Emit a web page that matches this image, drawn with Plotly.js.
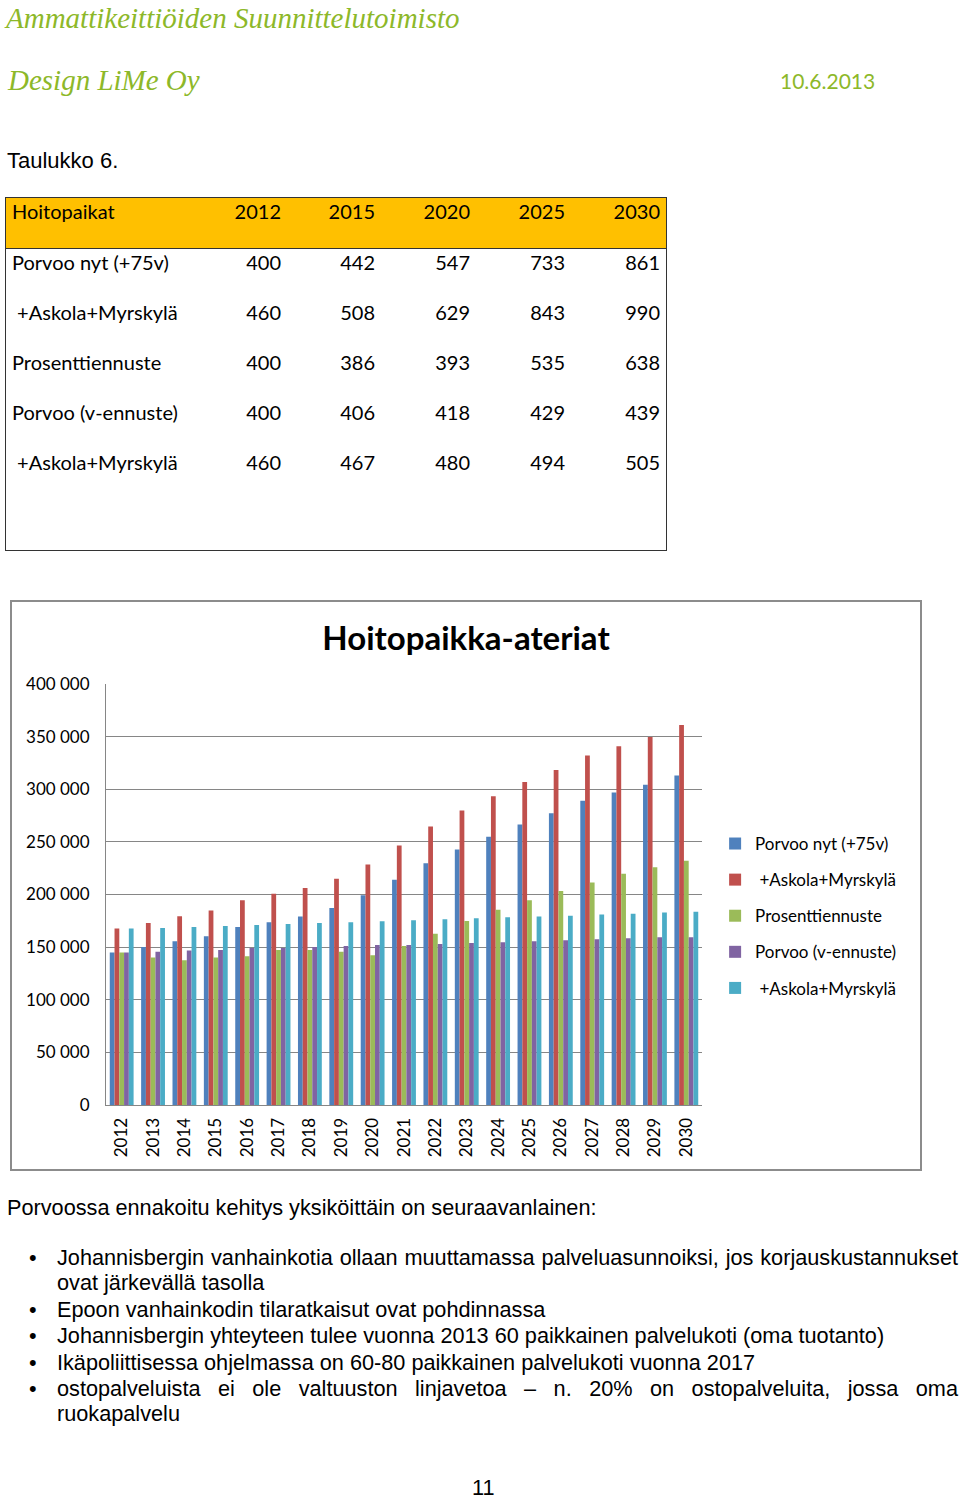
<!DOCTYPE html>
<html>
<head>
<meta charset="utf-8">
<script src="https://cdn.plot.ly/plotly-3.0.1.min.js"></script>
<style>
  html, body { margin:0; padding:0; background:#fff; }
  body { width:960px; height:1499px; position:relative; overflow:hidden; }
  .abs { position:absolute; white-space:nowrap; line-height:1; }
  .hdr { font-family:"Liberation Serif","DejaVu Serif",serif; font-style:italic; color:#8DB829; }
  .arial { font-family:"Liberation Sans", Arial, sans-serif; color:#000; }
  .lato { font-family:Lato, "Open Sans", sans-serif; color:#000; }
  .line { position:absolute; font-family:"Liberation Sans", Arial, sans-serif; font-size:21.7px; color:#000; white-space:nowrap; line-height:1; }
  .just { text-align:justify; text-align-last:justify; white-space:normal; }
  #table { position:absolute; left:5px; top:197px; width:662px; height:354px; border:1px solid #333; box-sizing:border-box; }
  #thead { position:absolute; left:0; top:0; right:0; height:50px; background:#FFC000; border-bottom:1px solid #333; }
  #chart { position:absolute; left:10px; top:600px; width:912px; height:571px; border:2px solid #8c8c8c; box-sizing:border-box; }
</style>
</head>
<body>
<div class="abs hdr" style="left:6px;top:4px;font-size:29px;">Ammattikeittiöiden Suunnittelutoimisto</div>
<div class="abs hdr" style="left:8px;top:66px;font-size:29px;">Design LiMe Oy</div>
<div class="abs lato" style="left:780px;top:70px;font-size:21px;color:#8DB829;">10.6.2013</div>

<div class="abs arial" style="left:7px;top:150px;font-size:22px;">Taulukko 6.</div>

<div id="table"><div id="thead"></div></div>

<div id="chart"></div>

<div class="line" style="left:7px;top:1197px;">Porvoossa ennakoitu kehitys yksiköittäin on seuraavanlainen:</div>
<div id="bullets"></div>
<div class="line" style="left:472px;top:1477px;">11</div>

<script>
// ---- table data ----
var tableHeader = ["Hoitopaikat", "2012", "2015", "2020", "2025", "2030"];
var tableRowLabels = ["Porvoo nyt (+75v)", " +Askola+Myrskylä", "Prosenttiennuste", "Porvoo (v-ennuste)", " +Askola+Myrskylä"];
var tableRow1 = [400, 442, 547, 733, 861];
var tableRow2 = [460, 508, 629, 843, 990];
var tableRow3 = [400, 386, 393, 535, 638];
var tableRow4 = [400, 406, 418, 429, 439];
var tableRow5 = [460, 467, 480, 494, 505];

// ---- chart data ----
var years = ["2012","2013","2014","2015","2016","2017","2018","2019","2020","2021","2022","2023","2024","2025","2026","2027","2028","2029","2030"];
var seriesNames = ["Porvoo nyt (+75v)", " +Askola+Myrskylä", "Prosenttiennuste", "Porvoo (v-ennuste)", " +Askola+Myrskylä"];
var porvooNyt   = [145000,150200,155600,160300,169200,173600,179000,187200,199200,214100,229600,242800,254900,266600,277300,289000,296900,304200,313000];
var askolaNyt   = [167600,173000,179300,184700,194500,200800,206200,215000,228600,246600,264700,279800,293400,307000,318400,332000,340900,349700,361100];
var prosentti   = [145000,140100,137500,140100,141300,147300,147300,145500,142300,151100,162800,174900,185600,194500,203300,211500,219800,225800,232100];
var porvooV     = [145000,145500,146700,147300,149200,149200,150200,151100,152100,152100,153000,154000,154600,155600,156500,157500,158400,159400,159400];
var askolaV     = [167600,168200,169200,170100,171100,172000,173000,173600,174500,175500,176400,177400,178300,179000,179900,180900,181800,182800,183700];
var seriesColors = ["#4F81BD", "#C0504D", "#9BBB59", "#8064A2", "#4BACC6"];

// ---- build table ----
(function(){
  var t = document.getElementById('table');
  var rights = [281, 375, 470, 565, 660];
  function put(txt, x, yc, alignRight) {
    var d = document.createElement('div');
    d.className = 'abs lato';
    d.style.fontSize = '20px';
    d.style.whiteSpace = 'pre';
    d.style.top = (yc - 197 - 12) + 'px';
    if (alignRight) { d.style.right = (5 + 661 - x) + 'px'; }
    else { d.style.left = (x - 6) + 'px'; }
    d.textContent = txt;
    t.appendChild(d);
  }
  put(tableHeader[0], 12, 212, false);
  for (var c = 1; c < tableHeader.length; c++) put(tableHeader[c], rights[c-1], 212, true);
  var rows = [tableRow1, tableRow2, tableRow3, tableRow4, tableRow5];
  var ys = [263, 313, 363, 413, 463];
  for (var r = 0; r < rows.length; r++) {
    put(tableRowLabels[r], 12, ys[r], false);
    for (var c2 = 0; c2 < rows[r].length; c2++) put(String(rows[r][c2]), rights[c2], ys[r], true);
  }
})();

// ---- bullets ----
(function(){
  var lines = [
    {t:"Johannisbergin vanhainkotia ollaan muuttamassa palveluasunnoiksi, jos korjauskustannukset", y:1258, b:true, j:true},
    {t:"ovat järkevällä tasolla", y:1283, b:false, j:false},
    {t:"Epoon vanhainkodin tilaratkaisut ovat pohdinnassa", y:1310, b:true, j:false},
    {t:"Johannisbergin yhteyteen tulee vuonna 2013 60 paikkainen palvelukoti (oma tuotanto)", y:1336, b:true, j:false},
    {t:"Ikäpoliittisessa ohjelmassa on 60-80 paikkainen palvelukoti vuonna 2017", y:1363, b:true, j:false},
    {t:"ostopalveluista ei ole valtuuston linjavetoa – n. 20% on ostopalveluita, jossa oma", y:1389, b:true, j:true},
    {t:"ruokapalvelu", y:1414, b:false, j:false}
  ];
  var host = document.getElementById('bullets');
  lines.forEach(function(L){
    var d = document.createElement('div');
    d.className = 'line' + (L.j ? ' just' : '');
    d.style.left = '57px';
    d.style.top = (L.y - 11) + 'px';
    if (L.j) d.style.width = '901px';
    d.textContent = L.t;
    host.appendChild(d);
    if (L.b) {
      var b = document.createElement('div');
      b.className = 'line';
      b.style.left = '29px';
      b.style.top = (L.y - 11) + 'px';
      b.textContent = '•';
      host.appendChild(b);
    }
  });
})();

// ---- chart ----
var allSeries = [porvooNyt, askolaNyt, prosentti, porvooV, askolaV];
var traces = allSeries.map(function(vals, i){
  return {
    type: 'bar',
    name: seriesNames[i],
    x: years,
    y: vals,
    marker: { color: seriesColors[i], line: { width: 0 } },
    legendgroup: 'g' + i,
    hoverinfo: 'skip'
  };
});

var layout = {
  width: 908,
  height: 567,
  margin: { l: 94, r: 218, t: 82, b: 64 },
  paper_bgcolor: '#ffffff',
  plot_bgcolor: '#ffffff',
  separators: ', ',
  font: { family: 'Lato, "Open Sans", sans-serif', size: 17, color: '#000' },
  title: {
    text: '<b>Hoitopaikka-ateriat</b>',
    font: { family: 'Lato, "Open Sans", sans-serif', size: 33, color: '#000' },
    x: (466 - 12) / 908, xanchor: 'center', xref: 'container',
    y: 1 - (38 - 2) / 567, yanchor: 'middle', yref: 'container'
  },
  barmode: 'group',
  bargap: 0.24,
  bargroupgap: 0,
  xaxis: {
    type: 'category',
    tickangle: -90,
    tickfont: { size: 17, color: '#000' },
    ticklabelstandoff: 5,
    showline: true, linecolor: '#868686', linewidth: 1,
    ticks: '', showgrid: false,
    automargin: false
  },
  yaxis: {
    range: [0, 400000],
    dtick: 50000,
    tickformat: ',d',
    tickfont: { size: 17, color: '#000' },
    ticklabelstandoff: 12,
    showline: true, linecolor: '#868686', linewidth: 1,
    gridcolor: '#868686', gridwidth: 1,
    zeroline: false,
    ticks: '', ticklen: 0,
    automargin: false
  },
  legend: {
    x: 1.022, xanchor: 'left',
    y: 0.449, yanchor: 'middle',
    font: { size: 17, color: '#000' },
    traceorder: 'grouped',
    tracegroupgap: 11,
    bgcolor: 'rgba(0,0,0,0)'
  },
  showlegend: true
};

Plotly.newPlot('chart', traces, layout, { staticPlot: true, displayModeBar: false });
</script>
</body>
</html>
